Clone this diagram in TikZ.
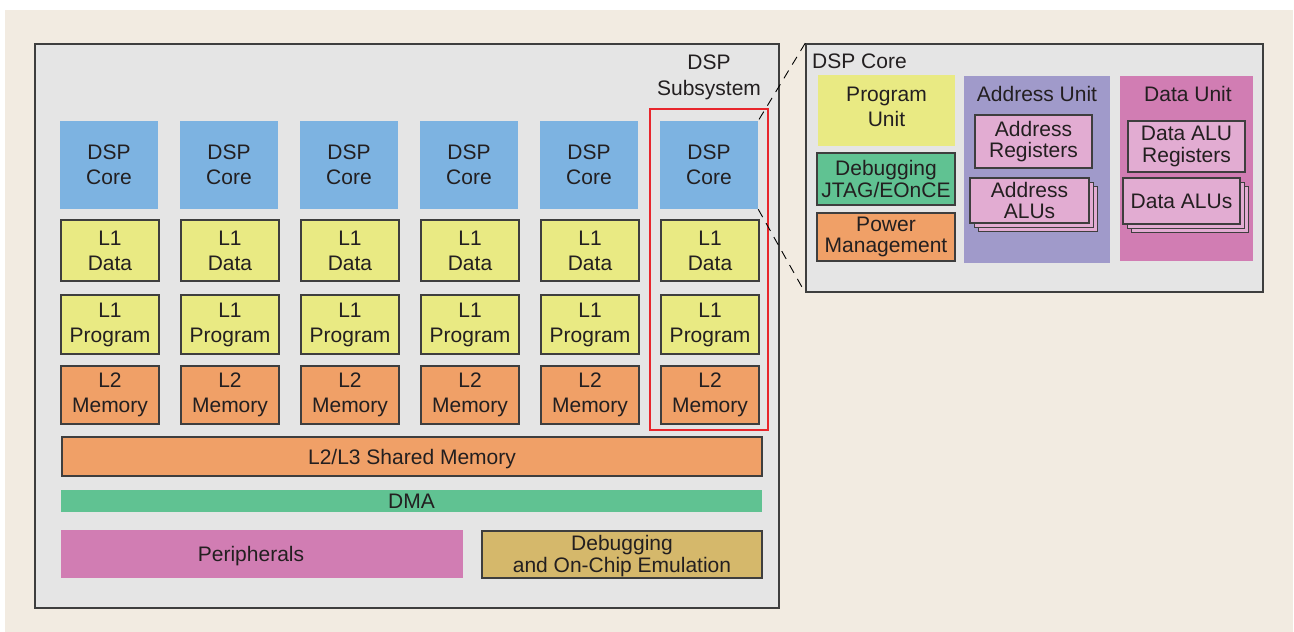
\documentclass[tikz,border=0pt]{standalone}
\usepackage{fontspec}
\setmainfont{Liberation Sans}
\definecolor{bgbeige}{HTML}{F2EBE1}
\definecolor{panelgray}{HTML}{E5E5E5}
\definecolor{edgegray}{HTML}{3E3E3E}
\definecolor{txt}{HTML}{231F20}
\definecolor{coreblue}{HTML}{7DB3E1}
\definecolor{l1yellow}{HTML}{E9EA83}
\definecolor{memorange}{HTML}{F0A067}
\definecolor{dmagreen}{HTML}{60C292}
\definecolor{perimag}{HTML}{D17DB3}
\definecolor{dbggold}{HTML}{D5B86B}
\definecolor{addrpurple}{HTML}{A09ACA}
\definecolor{lightpink}{HTML}{E2ACD2}
\definecolor{selred}{HTML}{E8262C}
\begin{document}
\begin{tikzpicture}[x=1pt,y=-1pt,
  every node/.style={font=\fontsize{21}{25}\selectfont, text=txt, inner sep=0pt, align=center},
  cell/.style={draw=edgegray, line width=1.5pt},
  tight/.style={font=\fontsize{21}{21.5}\selectfont},
  bigbox/.style={draw=edgegray, line width=1.6pt, fill=panelgray},
  dashline/.style={draw=black, line width=0.9pt, dash pattern=on 9pt off 7pt}]
\useasboundingbox (0,0) rectangle (1294,632);
\fill[bgbeige] (5,10) rectangle (1293,632);

% main subsystem box
\node[bigbox, minimum width=744pt, minimum height=564pt] (main) at (407,326) {};
\node (subtitle) at (709,77) {DSP\\[1pt]Subsystem};

% columns
\foreach \i in {1,...,6}{
  \pgfmathsetmacro\cx{109+120*(\i-1)}
  \node[fill=coreblue, minimum width=98pt, minimum height=88pt] (core\i) at (\cx,165) {DSP\\Core};
  \node[cell, fill=l1yellow, minimum width=98pt, minimum height=61pt] (ld\i) at (\cx+1,250.5) {L1\\Data};
  \node[cell, fill=l1yellow, minimum width=98pt, minimum height=59pt] (lp\i) at (\cx+1,324.5) {L1\\Program};
  \node[cell, fill=memorange, minimum width=98pt, minimum height=58pt] (lm\i) at (\cx+1,395) {L2\\Memory};
}
\node[draw=selred, line width=1.2pt, minimum width=118pt, minimum height=321pt] (sel) at (709,269.5) {};

\node[cell, fill=memorange, minimum width=700pt, minimum height=39pt] (shared) at (412,456.5) {};
\node (sharedtxt) at (412,459) {L2/L3 Shared Memory};
\node[fill=dmagreen, minimum width=701pt, minimum height=22pt] (dma) at (411.5,501) {DMA};
\node[fill=perimag, minimum width=402pt, minimum height=48pt] (peri) at (262,554) {};
\node (peritxt) at (251,556) {Peripherals};
\node[cell, fill=dbggold, minimum width=280pt, minimum height=47pt] (dbg) at (622,554.5) {};
\node (dbgtxt) at (622,556.5) {Debugging\\[-3pt]and On-Chip Emulation};

% DSP core detail panel
\node[bigbox, minimum width=457pt, minimum height=248pt] (panel) at (1034.5,168) {};
\node[anchor=base west] (ptitle) at (812,68) {DSP Core};

\node[fill=l1yellow, minimum width=137pt, minimum height=71pt] (pu) at (886.5,110.5) {};
\node (putxt) at (886.5,107) {Program\\Unit};
\node[cell, tight, fill=dmagreen, minimum width=138pt, minimum height=52pt] (jtag) at (886,179) {Debugging\\JTAG/EOnCE};
\node[cell, tight, fill=memorange, minimum width=138pt, minimum height=48pt] (pwr) at (886,237) {Power\\Management};

\node[fill=addrpurple, minimum width=146pt, minimum height=187pt] (au) at (1037,169.5) {};
\node[anchor=base] (autitle) at (1037,101) {Address Unit};
\node[cell, tight, fill=lightpink, minimum width=117pt, minimum height=53pt] (areg) at (1033.5,141.5) {Address\\Registers};
\node[draw=edgegray, line width=1pt, fill=lightpink, minimum width=119pt, minimum height=45pt] (aalu3) at (1037.5,208.5) {};
\node[draw=edgegray, line width=1pt, fill=lightpink, minimum width=119pt, minimum height=45pt] (aalu2) at (1033.5,204.5) {};
\node[cell, tight, fill=lightpink, minimum width=119pt, minimum height=45pt] (aalu) at (1029.5,200.5) {Address\\ALUs};

\node[fill=perimag, minimum width=133pt, minimum height=185pt] (du) at (1186.5,168.5) {};
\node[anchor=base] (dutitle) at (1188,101) {Data Unit};
\node[cell, tight, fill=lightpink, minimum width=117pt, minimum height=51pt] (dreg) at (1186.5,146.5) {Data ALU\\Registers};
\node[draw=edgegray, line width=1pt, fill=lightpink, minimum width=117pt, minimum height=46pt] (dalu3) at (1189.5,209) {};
\node[draw=edgegray, line width=1pt, fill=lightpink, minimum width=117pt, minimum height=46pt] (dalu2) at (1185.5,205) {};
\node[cell, fill=lightpink, minimum width=117pt, minimum height=46pt] (dalu) at (1181.5,201) {Data ALUs};

% zoom connectors
\draw[dashline] (panel.north west) -- (core6.north east);
\draw[dashline] (core6.south east) -- (panel.south west);
\end{tikzpicture}
\end{document}
